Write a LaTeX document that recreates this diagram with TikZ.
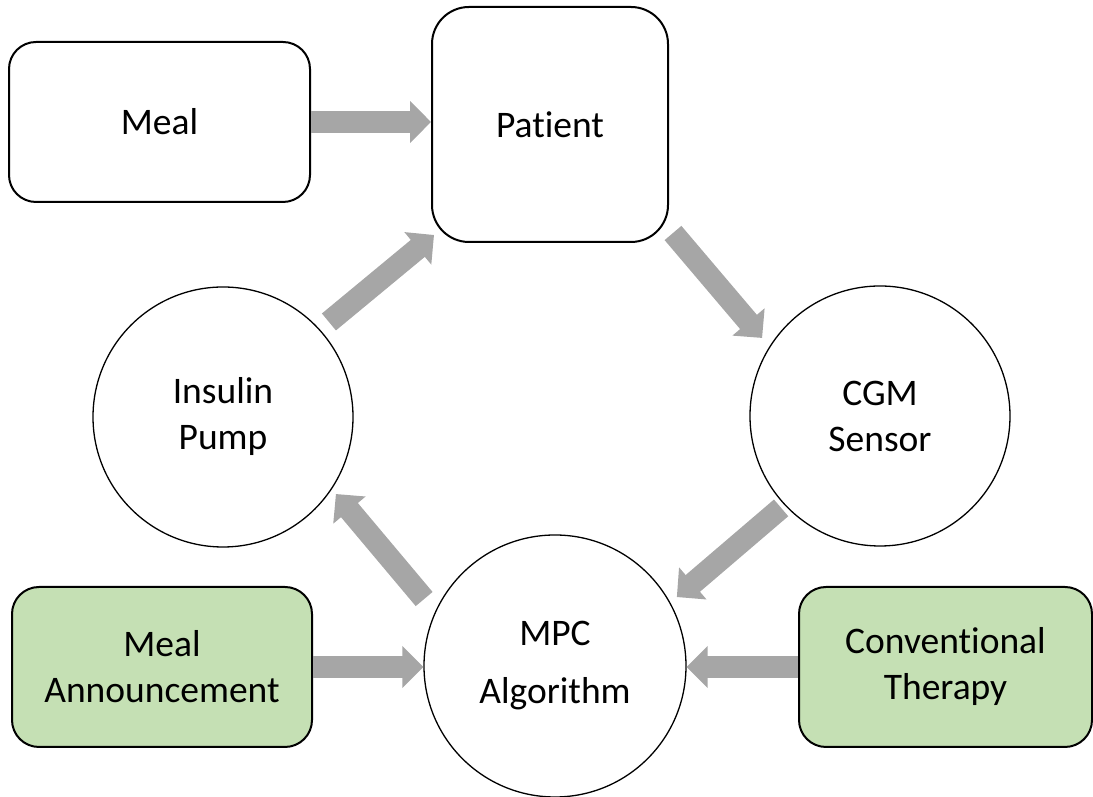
\documentclass[tikz,border=0pt]{standalone}
\usepackage{fontspec}
\setmainfont{Carlito}[RawFeature={-liga;-clig}]
\usetikzlibrary{arrows.meta}
\definecolor{flowgray}{HTML}{A6A6A6}
\definecolor{inputgreen}{HTML}{C5E0B4}
\tikzset{
  label font/.style={font=\fontsize{37.5}{46}\selectfont, text=black, align=center},
  roundbox/.style={label font, draw=black, line width=2pt, rounded corners=#1, inner sep=0pt},
  stage/.style={label font, draw=black, line width=1.3pt, circle, minimum size=#1, inner sep=0pt},
  flow/.style={draw=flowgray, line width=22pt, line cap=butt,
    -{Triangle[width=41pt, length=21pt, fill=flowgray]}}
}
\begin{document}
\begin{tikzpicture}[x=1pt, y=1pt]
  \useasboundingbox (0,0) rectangle (1093,797);

  % plant and external inputs
  \node[roundbox=27pt, minimum width=301pt, minimum height=160pt] (meal) at (159.5,675) {Meal};
  \node[roundbox=37pt, minimum width=236pt, minimum height=235pt] (pat) at (550,672.5) {Patient};
  \node[roundbox=27pt, fill=inputgreen, minimum width=300pt, minimum height=160pt] (ann) at (162,130) {Meal\\Announcement};
  \node[roundbox=27pt, fill=inputgreen, minimum width=293pt, minimum height=160pt] (con) at (945.5,130) {Conventional\\Therapy};

  % control loop stages
  \node[stage=260pt] (ins) at (223,380) {Insulin\\Pump};
  \node[stage=260pt] (cgm) at (880,381) {CGM\\Sensor};
  \node[stage=262pt] (mpc) at (555,131) {MPC\\[12pt]Algorithm};

  % signal flow
  \draw[flow] (meal.east) -- (meal.east -| pat.west);
  \draw[flow] ([shift={(41.9:142.3)}]ins.center) -- ([shift={(3,8)}]pat.south west);
  \draw[flow] ([shift={(4,10)}]pat.south east) -- ([shift={(146.5:141.4)}]cgm.center);
  \draw[flow] ([shift={(222.9:135)}]cgm.center) -- ([shift={(29.5:140)}]mpc.center);
  \draw[flow] ([shift={(152.9:147)}]mpc.center) -- ([shift={(-34.3:136.7)}]ins.center);
  \draw[flow] (ann.east) -- (ann.east -| mpc.west);
  \draw[flow] (con.west) -- (con.west -| mpc.east);
\end{tikzpicture}
\end{document}
